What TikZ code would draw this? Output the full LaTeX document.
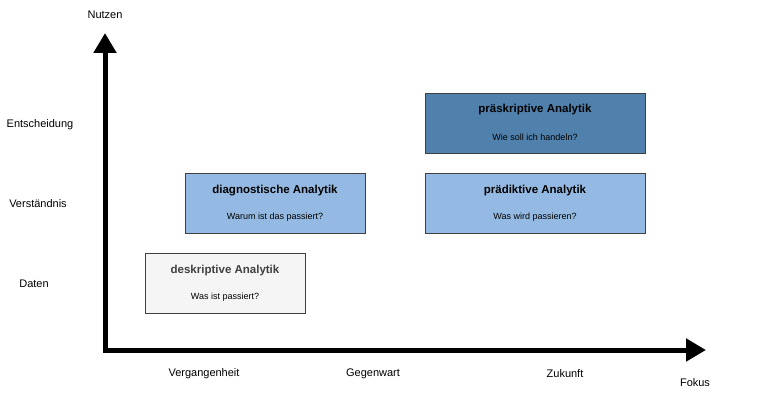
\documentclass[tikz,border=0pt]{standalone}
\usepackage{fontspec}
\setmainfont{Liberation Sans}
\usetikzlibrary{arrows.meta}
\definecolor{bxlight}{HTML}{F5F5F5}
\definecolor{bxblue}{HTML}{94BAE3}
\definecolor{bxdark}{HTML}{5081AD}
\begin{document}
\begin{tikzpicture}[x=1pt,y=-1pt,
  box/.style={draw=black!75,minimum width=#1,minimum height=60pt,inner sep=0pt},
  lbl/.style={font=\fontsize{11}{13}\selectfont},
  ttl/.style={font=\bfseries\fontsize{11.5}{13}\selectfont},
  sub/.style={font=\fontsize{9}{11}\selectfont},
  ax/.style={line width=5pt,-{Triangle[length=20pt,width=22pt]}}]
\useasboundingbox (0,0) rectangle (762,401);
\coordinate (o) at (105,352);
\coordinate (yt) at (105,33);
\coordinate (xt) at (706,350);
\draw[ax] (105,350) -- (yt);
\draw[ax] (103,350) -- (xt);
\node[box=160pt,fill=bxlight] (d) at (225,283) {};
\node[ttl,text=black!75] (dt) at (225,271) {deskriptive Analytik};
\node[sub] (ds) at (225,297) {Was ist passiert?};
\node[box=180pt,fill=bxblue] (g) at (275,203) {};
\node[ttl] (gt) at (275,191) {diagnostische Analytik};
\node[sub] (gs) at (275,217) {Warum ist das passiert?};
\node[box=220pt,fill=bxblue] (p) at (535,203) {};
\node[ttl] (pt) at (535,191) {prädiktive Analytik};
\node[sub] (ps) at (535,217) {Was wird passieren?};
\node[box=220pt,fill=bxdark] (s) at (535,123) {};
\node[ttl] (st) at (535,110) {präskriptive Analytik};
\node[sub] (ss) at (535,137) {Wie soll ich handeln?};
\node[lbl] (n) at (105,15) {Nutzen};
\node[lbl] (e) at (40,125) {Entscheidung};
\node[lbl] (v) at (38,204) {Verständnis};
\node[lbl] (da) at (34,284) {Daten};
\node[lbl] (vg) at (204,374) {Vergangenheit};
\node[lbl] (gw) at (373,374) {Gegenwart};
\node[lbl] (z) at (565,374) {Zukunft};
\node[lbl] (f) at (695,383) {Fokus};
\end{tikzpicture}
\end{document}
